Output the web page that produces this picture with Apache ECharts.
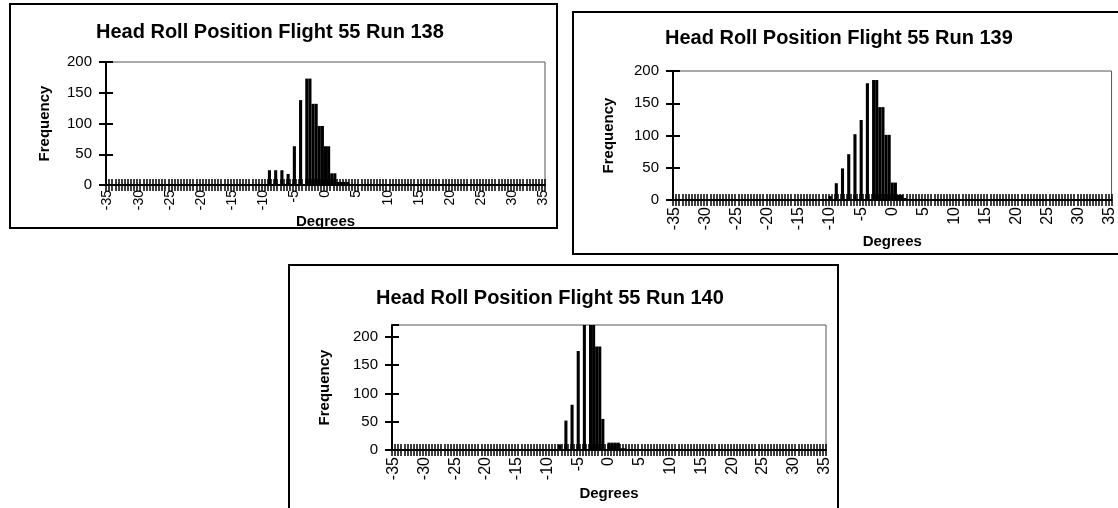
<!DOCTYPE html>
<html>
<head>
<meta charset="utf-8">
<script src="https://cdn.jsdelivr.net/npm/echarts@6/dist/echarts.min.js"></script>
<style>
html,body{margin:0;padding:0;background:#fff;}
#c{width:1118px;height:508px;}
</style>
</head>
<body>
<div id="c"></div>
<script>
// ---- data ----
// histogram bins: -35 .. 35 degrees in 0.5 degree steps
const bins = [];
for (let k = -70; k <= 70; k++) bins.push(String(k / 2));
const freqTicks = [0, 50, 100, 150, 200];
const titleTexts = [
  'Head Roll Position Flight 55 Run 138',
  'Head Roll Position Flight 55 Run 139',
  'Head Roll Position Flight 55 Run 140'
];
const xName = 'Degrees';
const yName = 'Frequency';
// [bin (degrees), frequency]; bins not listed are 0
const run138 = [[-9,24],[-8,24],[-7,24],[-6,18],[-5,63],[-4,138],[-3,173],[-2.5,173],
  [-2,132],[-1.5,132],[-1,96],[-0.5,96],[0,63],[0.5,63],[1,19],[1.5,19],[2,5],[2.5,5],[3,5],[3.5,5]];
const run139 = [[-10,6],[-9,26],[-8,49],[-7,71],[-6,102],[-5,124],[-4,181],[-3,186],[-2.5,186],
  [-2,144],[-1.5,144],[-1,101],[-0.5,101],[0,27],[0.5,27],[1,8],[1.5,8],[2,3]];
const run140 = [[-8,10],[-7,52],[-6,80],[-5,175],[-4,225],[-3,225],[-2.5,225],[-2,183],[-1.5,183],
  [-1,55],[0,13],[0.5,13],[1,13],[1.5,13],[2,3],[2.5,3]];
const runs = [run138, run139, run140];
const yMax = [200, 200, 221];

function fill(pairs) {
  const arr = bins.map(() => 0);
  pairs.forEach(([d, v]) => { arr[bins.indexOf(String(d))] = v; });
  return arr;
}

// ---- layout ----
const layouts = [
  {grid:{left:106, top:62, width:439, height:123}, title:{left:96, top:22}, frame:[10,4,547,224], xGap:24, yGap:54, xFont:14, xMargin:5},
  {grid:{left:673, top:71, width:440, height:129}, title:{left:665, top:28}, frame:[573,12,560,242], xGap:33, yGap:57, xFont:16, xMargin:7},
  {grid:{left:392, top:325, width:434, height:125}, title:{left:376, top:288}, frame:[289,265,549,260], xGap:36, yGap:60, xFont:16, xMargin:7}
];

const FONT = '"Liberation Sans", Arial, sans-serif';
const option = {
  animation: false,
  backgroundColor: '#fff',
  title: [], grid: [], xAxis: [], yAxis: [], series: [], graphic: []
};

layouts.forEach((L, i) => {
  option.title.push({
    text: titleTexts[i], left: L.title.left, top: L.title.top, padding: 0,
    textStyle: {fontFamily: FONT, fontSize: 20, fontWeight: 'bold', color: '#000'}
  });
  option.grid.push(Object.assign({show: true, borderColor: '#555', borderWidth: 1, backgroundColor: 'transparent'}, L.grid));
  const catBase = {type: 'category', data: bins, gridIndex: i, boundaryGap: true, position: 'bottom'};
  option.xAxis.push(Object.assign({}, catBase, {
    name: xName, nameLocation: 'middle', nameGap: L.xGap,
    nameTextStyle: {fontFamily: FONT, fontSize: 15, fontWeight: 'bold', color: '#000'},
    axisLine: {show: true, lineStyle: {color: '#000', width: 2}},
    axisTick: {show: true, interval: 0, length: 6, lineStyle: {color: '#000', width: 1.5}},
    axisLabel: {show: true, interval: 0, rotate: 90, margin: L.xMargin, fontFamily: FONT, fontSize: L.xFont, color: '#000',
      formatter: v => (Number(v) % 5 === 0 ? v : '')},
    splitLine: {show: false}
  }));
  option.xAxis.push(Object.assign({}, catBase, {
    axisLine: {show: false},
    axisTick: {show: true, inside: true, interval: 0, length: 6, lineStyle: {color: '#000', width: 1.5}},
    axisLabel: {show: false}, splitLine: {show: false}
  }));
  const valBase = {type: 'value', gridIndex: i, min: 0, max: yMax[i], interval: 50, position: 'left'};
  option.yAxis.push(Object.assign({}, valBase, {
    name: yName, nameLocation: 'middle', nameGap: L.yGap, nameRotate: 90,
    nameTextStyle: {fontFamily: FONT, fontSize: 15, fontWeight: 'bold', color: '#000'},
    axisLine: {show: true, lineStyle: {color: '#000', width: 2}},
    axisTick: {show: true, length: 7, lineStyle: {color: '#000', width: 2}},
    axisLabel: {show: true, margin: 14, fontFamily: FONT, fontSize: 15, color: '#000', showMaxLabel: yMax[i] % 50 === 0,
      formatter: v => (freqTicks.indexOf(v) >= 0 ? String(v) : '')},
    splitLine: {show: false}
  }));
  option.yAxis.push(Object.assign({}, valBase, {
    axisLine: {show: false},
    axisTick: {show: true, inside: true, length: 7, lineStyle: {color: '#000', width: 2}},
    axisLabel: {show: false}, splitLine: {show: false}
  }));
  option.series.push({
    type: 'bar', xAxisIndex: 2 * i, yAxisIndex: 2 * i, data: fill(runs[i]),
    barCategoryGap: '0%', itemStyle: {color: '#000'}, clip: true, silent: true
  });
  option.graphic.push({
    type: 'rect', shape: {x: L.frame[0], y: L.frame[1], width: L.frame[2], height: L.frame[3]},
    style: {fill: 'none', stroke: '#000', lineWidth: 2}, z: 100
  });
});

const chart = echarts.init(document.getElementById('c'), null, {renderer: 'canvas'});
chart.setOption(option);
</script>
</body>
</html>
